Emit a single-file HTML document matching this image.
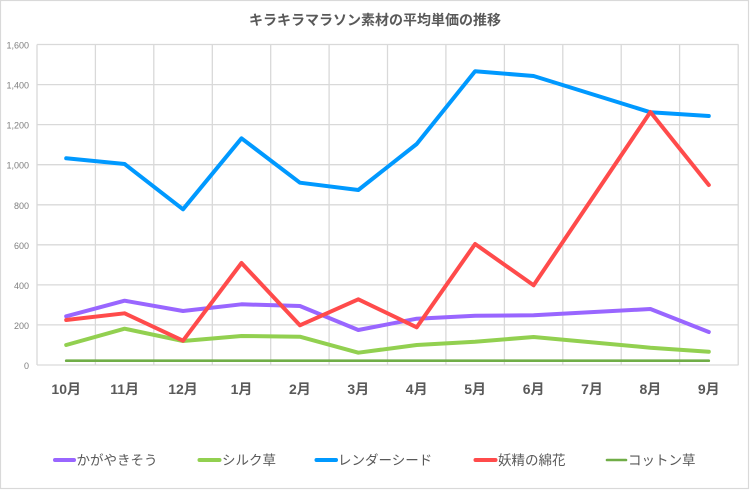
<!DOCTYPE html>
<html>
<head>
<meta charset="utf-8">
<style>
html,body{margin:0;padding:0;background:#fff;}
svg{display:block;}
text{font-family:"Liberation Sans","Noto Sans CJK JP",sans-serif;}
</style>
</head>
<body>
<svg width="750" height="490" viewBox="0 0 750 490" xmlns="http://www.w3.org/2000/svg">
<rect x="0" y="0" width="750" height="490" fill="#fff"/>
<rect x="0.5" y="0.5" width="748" height="488" fill="none" stroke="#d9d9d9" stroke-width="1.2"/>
<text x="375" y="25" text-anchor="middle" font-size="14" font-weight="bold" fill="#595959" style="font-family:'Noto Sans CJK JP',sans-serif">キラキラマラソン素材の平均単価の推移</text>
<g stroke="#d9d9d9" stroke-width="1.3">
<line x1="37" y1="44.5" x2="738.5" y2="44.5"/>
<line x1="37" y1="84.6" x2="738.5" y2="84.6"/>
<line x1="37" y1="124.6" x2="738.5" y2="124.6"/>
<line x1="37" y1="164.7" x2="738.5" y2="164.7"/>
<line x1="37" y1="204.8" x2="738.5" y2="204.8"/>
<line x1="37" y1="244.8" x2="738.5" y2="244.8"/>
<line x1="37" y1="284.9" x2="738.5" y2="284.9"/>
<line x1="37" y1="324.9" x2="738.5" y2="324.9"/>
<line x1="37" y1="365" x2="738.5" y2="365"/>
<line x1="37" y1="44.5" x2="37" y2="365"/>
<line x1="95.4" y1="44.5" x2="95.4" y2="365"/>
<line x1="153.8" y1="44.5" x2="153.8" y2="365"/>
<line x1="212.3" y1="44.5" x2="212.3" y2="365"/>
<line x1="270.7" y1="44.5" x2="270.7" y2="365"/>
<line x1="329.1" y1="44.5" x2="329.1" y2="365"/>
<line x1="387.5" y1="44.5" x2="387.5" y2="365"/>
<line x1="445.9" y1="44.5" x2="445.9" y2="365"/>
<line x1="504.4" y1="44.5" x2="504.4" y2="365"/>
<line x1="562.8" y1="44.5" x2="562.8" y2="365"/>
<line x1="621.2" y1="44.5" x2="621.2" y2="365"/>
<line x1="679.6" y1="44.5" x2="679.6" y2="365"/>
<line x1="738.2" y1="44.5" x2="738.2" y2="365"/>
</g>
<g font-size="9" fill="#7f7f7f" text-anchor="end">
<text x="29" y="48.5">1,600</text>
<text x="29" y="88.6">1,400</text>
<text x="29" y="128.6">1,200</text>
<text x="29" y="168.7">1,000</text>
<text x="29" y="208.8">800</text>
<text x="29" y="248.8">600</text>
<text x="29" y="288.9">400</text>
<text x="29" y="328.9">200</text>
<text x="29" y="369">0</text>
</g>
<g font-size="14" font-weight="bold" fill="#595959" text-anchor="middle">
<text x="66.2" y="394">10月</text>
<text x="124.6" y="394">11月</text>
<text x="183" y="394">12月</text>
<text x="241.5" y="394">1月</text>
<text x="299.9" y="394">2月</text>
<text x="358.3" y="394">3月</text>
<text x="416.7" y="394">4月</text>
<text x="475.1" y="394">5月</text>
<text x="533.6" y="394">6月</text>
<text x="592" y="394">7月</text>
<text x="650.4" y="394">8月</text>
<text x="708.8" y="394">9月</text>
</g>
<g fill="none" stroke-linejoin="round" stroke-linecap="round">
<polyline stroke="#9966ff" stroke-width="4" points="66.2,316.3 124.6,300.7 183,311 241.5,304.3 299.9,306 358.3,330 416.7,318.7 475.1,315.7 533.6,315.3 650.4,309 708.8,332"/>
<polyline stroke="#92d050" stroke-width="4" points="66.2,345 124.6,328.7 183,341 241.5,336 299.9,336.7 358.3,352.7 416.7,345 475.1,341.7 533.6,337 650.4,347.7 708.8,351.7"/>
<polyline stroke="#0099ff" stroke-width="4" points="66.2,158.3 124.6,164 183,209.3 241.5,138.3 299.9,182.7 358.3,190 416.7,144 475.1,71.3 533.6,76 650.4,112.3 708.8,116"/>
<polyline stroke="#ff4b4b" stroke-width="4" points="66.2,320 124.6,313.3 183,340.7 241.5,263 299.9,325.3 358.3,299.3 416.7,327.3 475.1,244 533.6,285.3 650.4,112 708.8,185"/>
<polyline stroke="#70ad47" stroke-width="2.6" points="66.2,360.7 708.8,360.7"/>
</g>
<g stroke-linecap="round" stroke-width="4">
<line x1="55" y1="460" x2="74" y2="460" stroke="#9966ff"/>
<line x1="199.5" y1="460" x2="219.5" y2="460" stroke="#92d050"/>
<line x1="316.5" y1="460" x2="336" y2="460" stroke="#0099ff"/>
<line x1="475.5" y1="460" x2="495.5" y2="460" stroke="#ff4b4b"/>
<line x1="607" y1="460" x2="626" y2="460" stroke="#70ad47" stroke-width="2.6"/>
</g>
<g font-size="13.5" fill="#595959" style="font-family:'Noto Sans CJK JP',sans-serif">
<text x="76.5" y="465">かがやきそう</text>
<text x="222" y="465">シルク草</text>
<text x="338" y="465">レンダーシード</text>
<text x="498" y="465">妖精の綿花</text>
<text x="628" y="465">コットン草</text>
</g>
</svg>
</body>
</html>
